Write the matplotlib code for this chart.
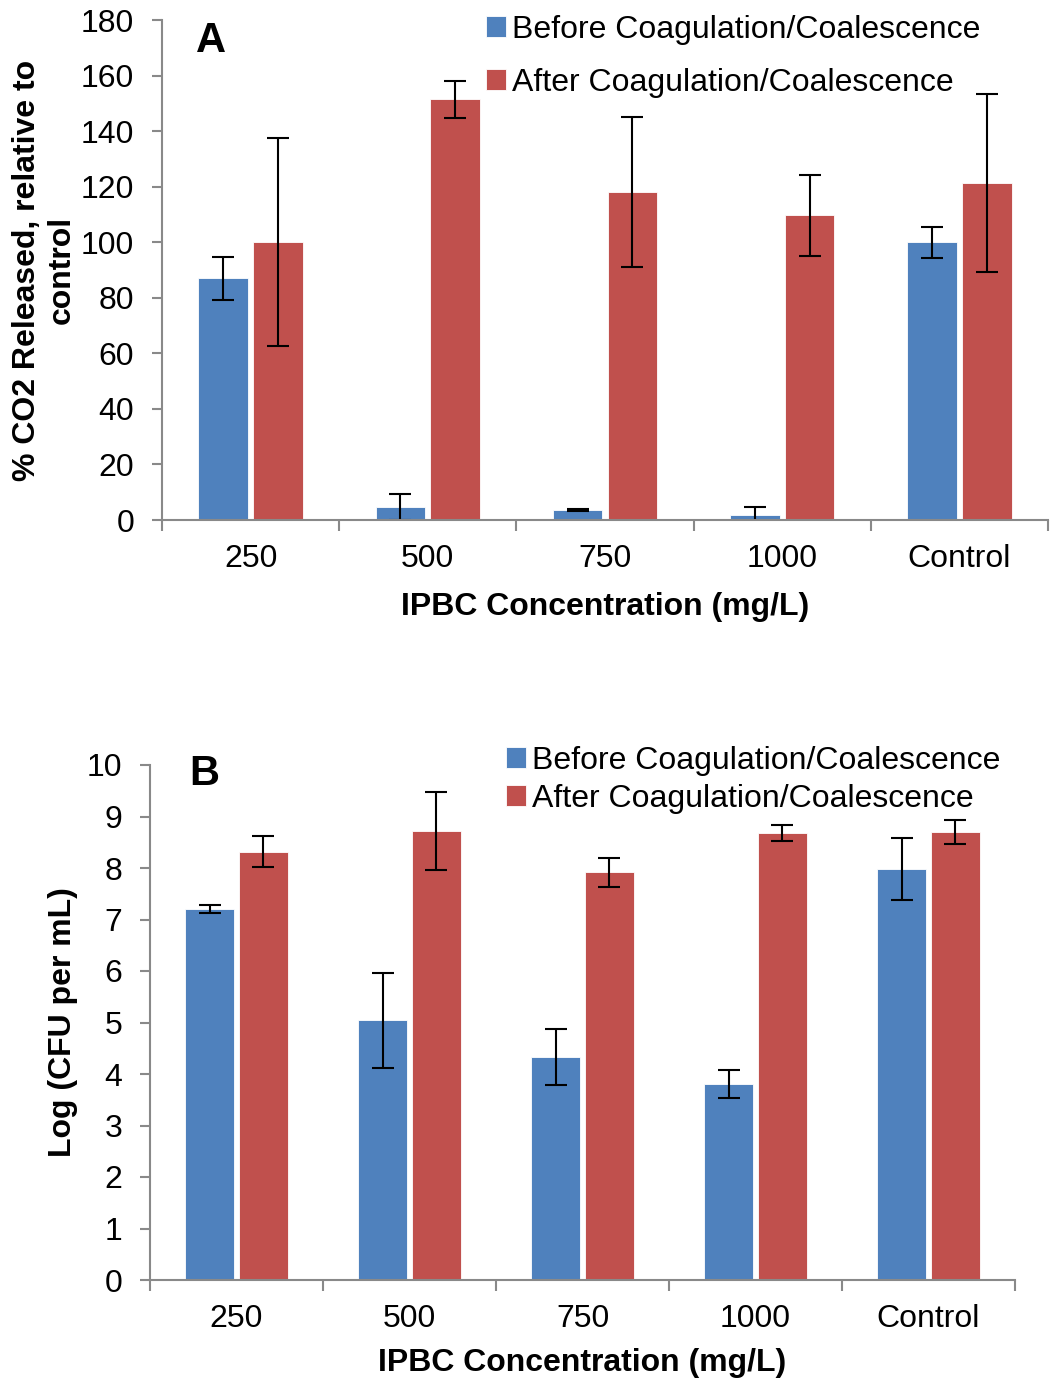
import numpy as np
import matplotlib
matplotlib.use('Agg')
import matplotlib.pyplot as plt

plt.rcParams['font.family'] = ['Liberation Sans', 'DejaVu Sans']
plt.rcParams['font.size'] = 23

categories = ['250', '500', '750', '1000', 'Control']
series = ['Before Coagulation/Coalescence', 'After Coagulation/Coalescence']

# panel A: % CO2 released relative to control
co2_before = [87, 4.6, 3.6, 1.9, 100]
co2_before_err = [7.8, 4.6, 0.5, 2.7, 5.5]
co2_after = [100, 151.4, 118, 109.7, 121.3]
co2_after_err = [37.4, 6.5, 27, 14.6, 32]

# panel B: log CFU per mL
cfu_before = [7.20, 5.04, 4.33, 3.80, 7.98]
cfu_before_err = [0.08, 0.93, 0.55, 0.27, 0.61]
cfu_after = [8.32, 8.72, 7.92, 8.68, 8.70]
cfu_after_err = [0.31, 0.76, 0.28, 0.15, 0.24]

blue = '#4F81BD'
red = '#C0504D'
grey = '#898989'

W, H = 1050, 1378
fig = plt.figure(figsize=(W / 100, H / 100), dpi=100)


def px_axes(left, top, right, bottom):
    return fig.add_axes([left / W, 1 - bottom / H, (right - left) / W, (bottom - top) / H])


def draw_panel(ax, before, before_err, after, after_err, ymax, ystep, xlabelpad):
    x = np.arange(len(categories))
    w = 0.28
    off = 0.155
    err_kw = dict(ecolor='black', elinewidth=1.5, capsize=8, capthick=1.5)
    b1 = ax.bar(x - off, before, w, yerr=before_err, color=blue, edgecolor='white',
                linewidth=0.6, error_kw=err_kw, label=series[0])
    b2 = ax.bar(x + off, after, w, yerr=after_err, color=red, edgecolor='white',
                linewidth=0.6, error_kw=err_kw, label=series[1])
    ax.set_xlim(-0.5, len(categories) - 0.5)
    ax.set_ylim(0, ymax)
    ax.set_yticks(np.arange(0, ymax + ystep / 2, ystep))
    ax.set_xticks(x)
    ax.set_xticklabels(categories)
    ax.set_xticks(np.arange(-0.5, len(categories)), minor=True)
    ax.tick_params(axis='x', which='major', length=0, pad=17)
    ax.tick_params(axis='x', which='minor', length=8, width=1.5, color=grey)
    ax.tick_params(axis='y', length=7, width=1.5, color=grey, pad=13)
    for s in ('top', 'right'):
        ax.spines[s].set_visible(False)
    for s in ('left', 'bottom'):
        ax.spines[s].set_color(grey)
        ax.spines[s].set_linewidth(1.5)
    ax.set_xlabel('IPBC Concentration (mg/L)', fontweight='bold', labelpad=xlabelpad)
    return b1, b2


def add_legend(ax, left, top, spacing):
    ax.legend(loc='upper left', bbox_to_anchor=(left / W, 1 - top / H),
              bbox_transform=fig.transFigure, frameon=False, handlelength=0.62,
              handleheight=0.62, handletextpad=0.2, labelspacing=spacing,
              borderpad=0, borderaxespad=0)


axA = px_axes(162, 20, 1048, 520)
draw_panel(axA, co2_before, co2_before_err, co2_after, co2_after_err, 180, 20, 13)
axA.set_ylabel('% CO2 Released, relative to\ncontrol', fontweight='bold',
               linespacing=1.2)
axA.yaxis.set_label_coords(-0.096, 0.5)
axA.text(0.038, 0.998, 'A', transform=axA.transAxes, fontsize=30, fontweight='bold',
         va='top', ha='left')
add_legend(axA, 486, 15, 0.72)

axB = px_axes(150, 765, 1015, 1280)
draw_panel(axB, cfu_before, cfu_before_err, cfu_after, cfu_after_err, 10, 1, 10)
axB.set_ylabel('Log (CFU per mL)', fontweight='bold')
axB.yaxis.set_label_coords(-0.083, 0.5)
axB.text(0.045, 1.022, 'B', transform=axB.transAxes, fontsize=30, fontweight='bold',
         va='top', ha='left')
add_legend(axB, 506, 746, 0.25)

fig.savefig('out.png', dpi=100)
